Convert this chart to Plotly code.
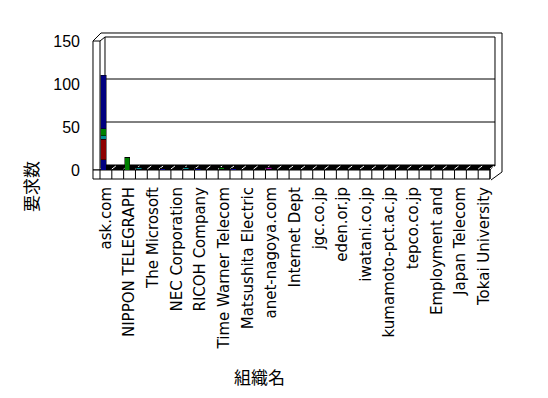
import plotly.graph_objects as go

# ---- data ----
org_labels = ["ask.com", "NIPPON TELEGRAPH", "The Microsoft", "NEC Corporation",
              "RICOH Company", "Time Warner Telecom", "Matsushita Electric",
              "anet-nagoya.com", "Internet Dept", "jgc.co.jp", "eden.or.jp",
              "iwatani.co.jp", "kumamoto-pct.ac.jp", "tepco.co.jp",
              "Employment and", "Japan Telecom", "Tokai University"]
org_index = list(range(33))          # 33 organisations, every other one labelled
label_index = org_index[::2]

s_navy1 = [12, 1, 0, 1, 1, 2, 1, 1, 2, 1, 1, 2, 1, 1, 1, 1, 1,
           1, 1, 1, 1, 1, 1, 1, 1, 1, 1, 1, 1, 1, 1, 1, 1]
s_red = [24, 0, 0, 0, 0, 0, 0, 0, 0, 0, 0, 0, 0, 0, 0, 0, 0,
         0, 0, 0, 0, 0, 0, 0, 0, 0, 0, 0, 0, 0, 0, 0, 0]
s_teal = [4, 0, 0, 2, 0, 0, 0, 2, 0, 0, 0, 0, 0, 0, 0, 0, 0,
          0, 0, 0, 0, 0, 0, 0, 0, 0, 0, 0, 0, 0, 0, 0, 0]
s_green = [8, 0, 15, 0, 0, 0, 0, 0, 0, 0, 2, 0, 0, 0, 0, 0, 0,
           0, 0, 0, 0, 0, 0, 0, 0, 0, 0, 0, 0, 0, 0, 0, 0]
s_purple = [0, 0, 0, 0, 0, 0, 0, 0, 0, 0, 0, 0, 0, 0, 2, 0, 0,
            0, 0, 0, 0, 0, 0, 0, 0, 0, 0, 0, 0, 0, 0, 0, 0]
s_navy2 = [62, 0, 0, 0, 0, 0, 0, 0, 0, 0, 0, 0, 0, 0, 0, 0, 0,
           0, 0, 0, 0, 0, 0, 0, 0, 0, 0, 0, 0, 0, 0, 0, 0]
series = [("系列1", s_navy1, "#000080"), ("系列2", s_red, "#8E0000"),
          ("系列3", s_teal, "#009090"), ("系列4", s_green, "#008000"),
          ("系列5", s_purple, "#A000A0"), ("系列6", s_navy2, "#000080")]
y_ticks = [0, 50, 100, 150]

# ---- geometry (target pixels) ----
W, H = 548, 398
OFF = 8                      # page body margin compensation
PL, PR, PT, PB = 100, 490, 41, 170


def fx(x):
    return (x - PL) / (PR - PL)


def fy(y):
    return (PB - y) / (PB - PT)


def path(pts, close=True):
    s = "M " + " L ".join(f"{fx(x):.5f},{fy(y):.5f}" for x, y in pts)
    return s + (" Z" if close else "")


fig = go.Figure()
for name, vals, col in series:
    fig.add_trace(go.Bar(x=org_index, y=vals, name=name, width=0.45, offset=-0.42,
                         marker=dict(color=col, line=dict(color="black", width=0.5))))

shapes = []
line = dict(color="black", width=1)
# back wall
shapes.append(dict(type="path", path=path([(105, 37), (495, 37), (495, 166), (105, 166)]),
                   xref="paper", yref="paper", fillcolor="white", line=line, layer="below"))
# back gridlines (shifted 3-D)
ppu = (PB - PT) / 150
for v in y_ticks[1:3]:
    yy = PB - v * ppu - 5
    shapes.append(dict(type="line", x0=fx(105), x1=fx(495), y0=fy(yy), y1=fy(yy),
                       xref="paper", yref="paper", line=line, layer="below"))
# outer top / right frame
shapes.append(dict(type="path", path=path([(93, 41), (101, 33), (502, 33), (502, 172), (491, 180)], close=False),
                   xref="paper", yref="paper", line=line, layer="below"))
shapes.append(dict(type="line", x0=fx(100), x1=fx(105), y0=fy(41), y1=fy(37),
                   xref="paper", yref="paper", line=line, layer="below"))
shapes.append(dict(type="line", x0=fx(495), x1=fx(490), y0=fy(165), y1=fy(170),
                   xref="paper", yref="paper", line=line, layer="below"))
# left wall front face
shapes.append(dict(type="path", path=path([(93, 41), (100, 41), (100, 170), (93, 170)]),
                   xref="paper", yref="paper", fillcolor="white", line=line, layer="below"))
# floor top (dark)
shapes.append(dict(type="path", path=path([(100, 170), (490, 170), (495, 165), (105, 165)]),
                   xref="paper", yref="paper", fillcolor="black", line=line, layer="below"))
# floor front face
shapes.append(dict(type="path", path=path([(93, 170), (490, 170), (490, 179), (93, 179)]),
                   xref="paper", yref="paper", fillcolor="white", line=line, layer="below"))
cell = (PR - PL) / len(org_index)
for k in range(len(org_index) + 1):
    xx = PL + k * cell
    shapes.append(dict(type="line", x0=fx(xx), x1=fx(xx), y0=fy(170), y1=fy(179),
                       xref="paper", yref="paper", line=line, layer="below"))
    shapes.append(dict(type="line", x0=fx(xx), x1=fx(xx + 4), y0=fy(169), y1=fy(166),
                       xref="paper", yref="paper", line=dict(color="white", width=1), layer="below"))

ml = PL - OFF
mt = PT - OFF
mr = W - ml - (PR - PL)
mb = H - mt - (PB - PT)

fig.update_layout(
    width=W, height=H,
    margin=dict(l=ml, r=mr, t=mt, b=mb, autoexpand=False),
    paper_bgcolor="white", plot_bgcolor="rgba(0,0,0,0)",
    barmode="stack", showlegend=False,
    font=dict(family="Liberation Sans, Noto Sans CJK JP", color="black"),
    shapes=shapes,
    xaxis=dict(range=[-0.5, 32.5], tickmode="array", tickvals=label_index, ticktext=org_labels,
               tickangle=-90, tickfont=dict(size=15, family="DejaVu Sans"), showgrid=False,
               zeroline=False, showline=False, ticks="", ticklabelstandoff=13),
    yaxis=dict(range=[0, 150], tickmode="array", tickvals=y_ticks, tickfont=dict(size=16),
               showgrid=False, zeroline=False, showline=False, ticks="", ticklabelstandoff=19),
    annotations=[
        dict(text="要求数", x=fx(30), y=fy(187), xref="paper", yref="paper", showarrow=False,
             xanchor="center", yanchor="middle",
             textangle=-90, font=dict(size=17, family="Noto Sans CJK JP")),
        dict(text="組織名", x=fx(259), y=fy(376), xref="paper", yref="paper", showarrow=False,
             xanchor="center", yanchor="middle",
             font=dict(size=17, family="Noto Sans CJK JP")),
    ],
)
fig.write_html("out.html")
